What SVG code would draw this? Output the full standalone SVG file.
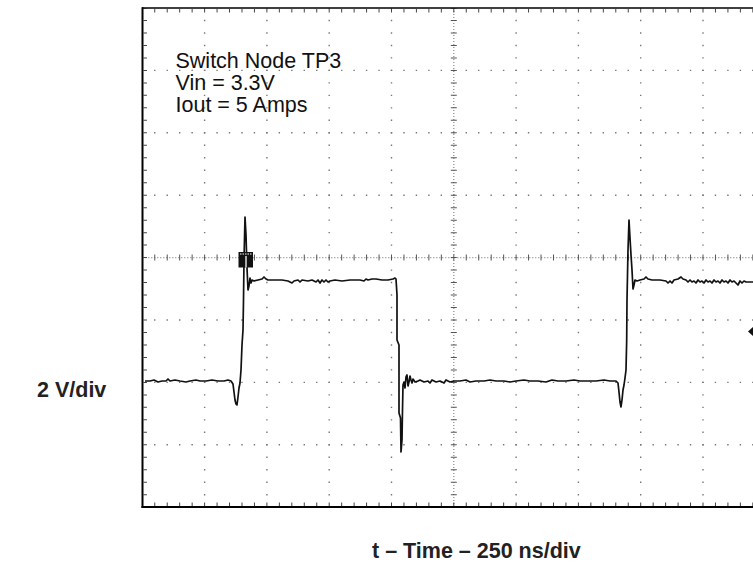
<svg xmlns="http://www.w3.org/2000/svg" width="753" height="564" viewBox="0 0 753 564">
<style>
.dotv{stroke:#777;stroke-width:1.4;stroke-dasharray:1.4 11.08;stroke-dashoffset:0.7;fill:none}
.doth{stroke:#777;stroke-width:1.4;stroke-dasharray:1.4 11.06;stroke-dashoffset:0.7;fill:none}
.dense{stroke:#888;stroke-width:1.2;stroke-dasharray:1 2;fill:none}
.tickh{stroke:#555;stroke-width:6;stroke-dasharray:1 11.46;stroke-dashoffset:0.5;fill:none}
.tickv{stroke:#555;stroke-width:6;stroke-dasharray:1 11.48;stroke-dashoffset:0.5;fill:none}
.btickh{stroke:#444;stroke-width:3.5;stroke-dasharray:1 11.46;stroke-dashoffset:0.5;fill:none}
.btickv{stroke:#444;stroke-width:3.5;stroke-dasharray:1 11.48;stroke-dashoffset:0.5;fill:none}
.border{stroke:#000;fill:none}
.trace{stroke:#111;stroke-width:1.7;fill:none;stroke-linejoin:round}
.note{font-family:"Liberation Sans",Arial,sans-serif;font-size:21.5px;fill:#111}
.axis{font-family:"Liberation Sans",Arial,sans-serif;font-size:21.5px;font-weight:bold;fill:#222}
</style>
<rect width="753" height="564" fill="#fff"/>
<g id="grid">
  <g id="major-vertical">
    <line class="dotv" x1="204.6" y1="8" x2="204.6" y2="507"/>
    <line class="dotv" x1="266.9" y1="8" x2="266.9" y2="507"/>
    <line class="dotv" x1="329.2" y1="8" x2="329.2" y2="507"/>
    <line class="dotv" x1="391.5" y1="8" x2="391.5" y2="507"/>
    <line class="dotv" x1="516.1" y1="8" x2="516.1" y2="507"/>
    <line class="dotv" x1="578.4" y1="8" x2="578.4" y2="507"/>
    <line class="dotv" x1="640.7" y1="8" x2="640.7" y2="507"/>
    <line class="dotv" x1="703" y1="8" x2="703" y2="507"/>
  </g>
  <g id="major-horizontal">
    <line class="doth" x1="142.3" y1="70.4" x2="753" y2="70.4"/>
    <line class="doth" x1="142.3" y1="132.8" x2="753" y2="132.8"/>
    <line class="doth" x1="142.3" y1="195.2" x2="753" y2="195.2"/>
    <line class="doth" x1="142.3" y1="320" x2="753" y2="320"/>
    <line class="doth" x1="142.3" y1="382.4" x2="753" y2="382.4"/>
    <line class="doth" x1="142.3" y1="444.8" x2="753" y2="444.8"/>
  </g>
  <g id="center-lines">
    <line class="dense" x1="142.3" y1="257.6" x2="753" y2="257.6"/>
    <line class="tickh" x1="142.3" y1="257.6" x2="753" y2="257.6"/>
    <line class="dense" x1="453.8" y1="8" x2="453.8" y2="507"/>
    <line class="tickv" x1="453.8" y1="8" x2="453.8" y2="507"/>
  </g>
  <g id="border-ticks">
    <line class="btickv" x1="145.2" y1="8" x2="145.2" y2="507"/>
    <line class="btickh" x1="142.3" y1="10.8" x2="753" y2="10.8"/>
    <line class="btickh" x1="142.3" y1="504.3" x2="753" y2="504.3"/>
  </g>
  <g id="border">
    <line class="border" stroke-width="1.5" x1="142" y1="8" x2="753" y2="8"/>
    <line class="border" stroke-width="2" x1="142.5" y1="7.3" x2="142.5" y2="508"/>
    <line class="border" stroke-width="2" x1="141.5" y1="507" x2="753" y2="507"/>
  </g>
</g>
<g id="trace">
  <polyline class="trace" points="145,381 150,381 154,380 158,382 162,381 166,381 168,379 170,381 175,380 180,381 186,382 190,381 196,380 200,381 206,381 212,380 218,381 224,381 228,380 231,381 233,384 234,392 235,400 236,404 237,405 238,397 239,388 240,383 241,370 242,345 243,330 243.5,300 244,260 245,217 246,235 247,268 248,290 249,286 250,278 251,283 252,280 254,281 258,280 262,279 264,277 266,279 268,280 275,280 282,280 288,281 292,283 294,281 298,280 300,282 302,280 308,281 312,280 316,282 318,280 320,283 322,280 324,282 326,280 328,282 330,281 335,280 342,281 350,280 356,280 360,280 364,281 366,279 368,280 372,279 376,279 382,280 388,280 393,279 395,278 396,279 397,295 397,340 399,345 399,413 400.5,418 401,452 402,440 402.5,410 403,385 404,382 405,388 406,377 407,375 408,386 409,382 410,376 411,380 412,383 413,379 415,382 418,381 420,380 424,382 428,381 430,383 432,380 436,382 440,381 444,383 446,380 450,382 454,381 460,381 466,380 470,382 476,381 484,381 490,380 496,381 504,381 510,382 516,381 524,380 530,381 538,381 546,382 552,380 558,381 566,381 574,380 580,381 588,381 596,381 604,380 610,381 616,381 618,383 619,392 620,402 621,407 622,400 623,390 624,385 625,378 626,370 626.7,340 627,300 628,250 629,220 630,238 631,255 632,270 633,289 634,285 635,280 637,281 640,280 644,279 646,277 648,279 652,280 660,280 666,281 668,283 670,281 672,283 674,280 678,279 681,277 683,279 686,280 688,282 690,280 692,282 694,281 696,283 698,280 700,282 702,281 704,283 706,280 708,282 710,281 712,283 714,280 716,282 718,281 720,283 722,280 724,282 726,281 728,283 730,280 732,282 734,281 736,283 738,285 740,281 742,283 744,281 746,282 753,282"/>
</g>
<g id="trigger-marker">
  <rect x="238.5" y="252" width="14.5" height="15.5" fill="#111"/>
  <line x1="240" y1="254" x2="251.5" y2="254" stroke="#fff" stroke-width="1.2" stroke-dasharray="1.5 1"/>
  <line x1="246" y1="256" x2="246" y2="267.5" stroke="#fff" stroke-width="1.3"/>
</g>
<g id="ground-marker">
  <polygon points="748,331.5 753,327 753,336" fill="#111"/>
</g>
<g id="labels">
  <text class="note" x="175.5" y="68">Switch Node TP3</text>
  <text class="note" x="175.5" y="90">Vin = 3.3V</text>
  <text class="note" x="175.5" y="112">Iout = 5 Amps</text>
  <text class="axis" x="37" y="396.5">2 V/div</text>
  <text class="axis" x="372" y="558">t – Time – 250 ns/div</text>
</g>
</svg>
